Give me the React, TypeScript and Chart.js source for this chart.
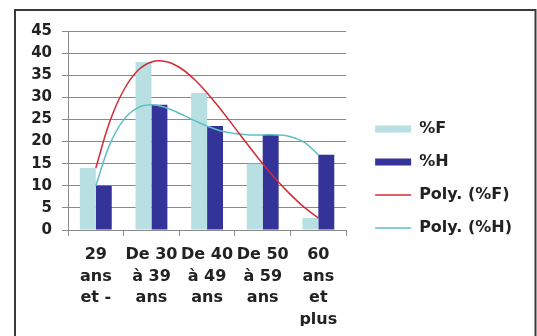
import React, { useEffect, useRef } from "react";
import { Chart, registerables } from "chart.js";

Chart.register(...registerables);

// Age groups (multi-line tick labels), group n sits at x = n on the shared x scale
const ageGroups: string[][] = [
  ["29", "ans", "et -"],
  ["De 30", "à 39", "ans"],
  ["De 40", "à 49", "ans"],
  ["De 50", "à 59", "ans"],
  ["60", "ans", "et", "plus"],
];
const groupPos: number[] = [1, 2, 3, 4, 5];

// Share of women / men per age group (%)
const pctF: number[] = [14, 38, 31, 15, 2.7];
const pctH: number[] = [10, 28.3, 23.5, 21.5, 17];

// Polynomial trend curves, sampled every quarter of a group
const trendPos: number[] = [1, 1.25, 1.5, 1.75, 2, 2.25, 2.5, 2.75, 3, 3.25, 3.5, 3.75, 4, 4.25, 4.5, 4.75, 5];
const trendF: number[] = [14.0, 24.5, 31.6, 36.0, 38.0, 38.1, 36.8, 34.3, 31.0, 27.2, 23.1, 19.0, 15.0, 11.3, 8.0, 5.1, 2.7];
const trendH: number[] = [10.0, 19.3, 24.9, 27.6, 28.3, 27.7, 26.4, 24.9, 23.5, 22.4, 21.8, 21.5, 21.5, 21.5, 21.1, 19.8, 17.0];

const yTicksMax = 45;
const yTicksStep = 5;

const FONT = "DejaVu Sans";
const TEXT = "#222222";
const GRID = "#8a8a8a";

const framePlugin = {
  id: "frame",
  beforeDraw(chart: any) {
    const { ctx, width, height } = chart;
    ctx.save();
    ctx.fillStyle = "#ffffff";
    ctx.fillRect(0, 0, width, height);
    ctx.strokeStyle = "#3a3a3a";
    ctx.lineWidth = 2;
    ctx.strokeRect(15, 10, width - 16.5, height + 10);
    ctx.restore();
  },
};

const toPoints = (xs: number[], ys: number[]) => xs.map((x, i) => ({ x, y: ys[i] }));

export default function App() {
  const ref = useRef<HTMLCanvasElement | null>(null);

  useEffect(() => {
    if (!ref.current) return;
    const chart = new Chart(ref.current, {
      type: "bar",
      data: {
        datasets: [
          {
            type: "bar",
            label: "%F",
            data: toPoints(groupPos, pctF),
            backgroundColor: "#b8e0e3",
            borderWidth: 0,
            categoryPercentage: 0.573,
            barPercentage: 1,
            order: 1,
          },
          {
            type: "bar",
            label: "%H",
            data: toPoints(groupPos, pctH),
            backgroundColor: "#333399",
            borderWidth: 0,
            categoryPercentage: 0.573,
            barPercentage: 1,
            order: 1,
          },
          {
            type: "line",
            label: "Poly. (%F)",
            data: toPoints(trendPos, trendF),
            borderColor: "#d22b36",
            backgroundColor: "#d22b36",
            borderWidth: 1.5,
            pointRadius: 0,
            tension: 0.4,
            fill: false,
            order: 0,
          },
          {
            type: "line",
            label: "Poly. (%H)",
            data: toPoints(trendPos, trendH),
            borderColor: "#5fbfc7",
            backgroundColor: "#5fbfc7",
            borderWidth: 1.5,
            pointRadius: 0,
            tension: 0.4,
            fill: false,
            order: 0,
          },
        ] as any,
      },
      options: {
        animation: false,
        responsive: false,
        layout: { padding: { left: 16, top: 31, right: 15, bottom: 10 } },
        plugins: {
          tooltip: { enabled: false },
          legend: {
            position: "right",
            align: "center",
            maxWidth: 220,
            labels: {
              usePointStyle: true,
              pointStyleWidth: 36,
              boxHeight: 7,
              padding: 17,
              color: TEXT,
              font: { family: FONT, size: 16, weight: "bold" },
              generateLabels: (c: any) =>
                c.data.datasets.map((ds: any, i: number) => {
                  const isLine = ds.type === "line";
                  const col = isLine ? ds.borderColor : ds.backgroundColor;
                  return {
                    text: ds.label,
                    fillStyle: col,
                    strokeStyle: col,
                    lineWidth: isLine ? 1.5 : 0,
                    pointStyle: isLine ? "line" : "rect",
                    hidden: false,
                    datasetIndex: i,
                    fontColor: TEXT,
                  };
                }),
            },
          },
        },
        scales: {
          x: {
            type: "linear",
            min: 0.5,
            max: 5.5,
            offset: false,
            afterBuildTicks: (s: any) => {
              s.ticks = groupPos.map((v) => ({ value: v }));
            },
            grid: {
              offset: true,
              drawOnChartArea: false,
              drawTicks: true,
              tickLength: 6,
              color: GRID,
            },
            border: { display: true, color: GRID },
            ticks: {
              color: TEXT,
              font: { family: FONT, size: 16, weight: "bold", lineHeight: 1.35 },
              padding: 8,
              maxRotation: 0,
              autoSkip: false,
              callback: (v: number) => ageGroups[Math.round(v) - 1] ?? "",
            },
            afterFit: (s: any) => {
              s.height = 96;
            },
          },
          y: {
            type: "linear",
            min: 0,
            max: yTicksMax,
            ticks: {
              stepSize: yTicksStep,
              color: TEXT,
              font: { family: FONT, size: 15, weight: "bold" },
              padding: 10,
            },
            grid: { color: GRID, tickLength: 6, lineWidth: 1 },
            border: { display: true, color: GRID },
            afterFit: (s: any) => {
              s.width = 52;
            },
          },
          gap: {
            type: "linear",
            position: "right",
            min: 0,
            max: 1,
            display: true,
            grid: { display: false, drawTicks: false },
            border: { display: false },
            ticks: { display: false },
            afterFit: (s: any) => {
              s.width = 12;
            },
          },
        },
      } as any,
      plugins: [framePlugin],
    });
    return () => chart.destroy();
  }, []);

  return (
    <canvas
      ref={ref}
      width={537}
      height={336}
      style={{ position: "absolute", left: 0, top: 0, display: "block" }}
    />
  );
}
